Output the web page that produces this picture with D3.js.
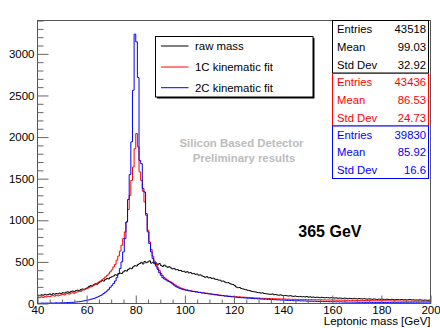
<!DOCTYPE html>
<html><head><meta charset="utf-8">
<script src="https://cdn.jsdelivr.net/npm/d3@7"></script>
<style>body{margin:0;background:#fff}svg{display:block;font-family:"Liberation Sans",Arial,Helvetica,sans-serif}</style>
</head><body><svg id="c" width="440" height="328"></svg>
<script>
// ---- data (bin contents, 240 bins of 2/3 GeV from 40 to 200) ----
const xMin = 40, xMax = 200, binWidth = 2 / 3, yMax = 3401;
const rawMass = [
100,95,105,98,110,102,108,115,105,118,112,120,115,125,118,
130,125,135,140,132,145,150,142,
155,160,152,168,175,165,180,188,
205,215,210,228,238,232,250,
262,275,270,288,300,295,312,322,
330,345,340,355,365,360,380,
395,390,410,425,418,440,455,450,
470,480,495,475,505,490,500,512,485,495,
478,488,465,480,458,445,462,448,435,442,
428,415,422,405,408,395,398,385,388,375,
382,368,372,358,362,350,354,340,344,332,
325,315,322,308,312,300,305,292,290,282,
280,268,270,258,250,252,240,232,228,215,
198,190,192,180,175,170,165,158,155,148,
145,140,138,132,130,125,128,120,118,115,
112,110,115,105,108,102,100,104,98,95,
96,92,90,94,88,86,90,84,82,85,
80,82,78,84,76,80,75,78,72,76,
74,70,75,72,68,72,70,66,70,68,
65,68,62,66,64,60,65,62,58,62,
60,56,62,58,55,60,57,54,58,55,
52,56,54,50,55,52,48,53,50,52,
50,47,52,48,45,50,47,44,48,46,
45,48,43,46,42,45,48,43,44,41,
43,40,44,42,39,42,40,38,41];
const fit1C = [
75,70,80,72,85,78,88,82,90,95,88,100,92,98,105,
110,102,115,120,112,125,130,122,
135,140,150,145,160,168,175,182,
190,200,210,220,232,245,258,
270,285,300,318,335,355,380,405,
440,470,520,570,630,700,780,
860,980,1130,1300,1480,1640,1860,2043,
1882,1582,1480,1350,1220,1060,880,740,650,570,
510,470,430,395,360,335,312,296,282,268,
258,246,230,220,206,198,186,182,172,166,
164,156,154,148,147,140,141,134,135,128,
129,124,123,118,117,112,111,106,107,102,
101,97,96,92,93,89,89,85,86,82,
83,79,80,76,77,74,74,71,72,69,
70,66,67,65,66,62,63,61,62,59,
60,57,59,56,57,55,56,54,55,52,
54,51,53,50,51,49,51,48,50,47,
49,46,48,46,47,45,46,44,46,43,
45,43,44,42,44,41,43,41,42,40,
42,39,41,39,41,38,40,38,39,37,
39,37,38,36,38,35,37,35,36,34,
36,34,35,33,35,33,34,32,34,32,
33,31,33,31,32,30,32,30,31,29,
31,29,30,28,30,28,29,27,29,27,
28,27,28,26,27,26,27,25,26];
const fit2C = [
3,2,4,5,3,6,4,5,7,5,6,8,6,7,9,
8,10,9,12,11,14,13,16,
18,20,22,25,28,32,35,40,
44,50,55,60,68,76,85,
95,105,120,135,150,170,195,215,
240,270,310,360,420,500,620,
780,980,1250,1550,1942,2563,3237,3144,
2716,1720,1680,1380,1340,1080,860,720,620,540,
490,450,410,370,340,310,295,285,270,262,
250,235,220,205,195,185,178,170,165,160,
157,153,151,146,144,139,138,133,132,127,
126,121,121,116,115,111,110,105,104,99,
98,94,93,89,89,84,84,80,80,76,
76,72,73,69,70,66,67,63,64,61,
61,58,59,56,57,53,54,51,52,49,
50,47,48,45,46,43,44,41,42,39,
40,37,38,36,37,34,35,33,34,31,
32,30,31,28,30,27,29,26,28,25,
26,24,25,23,24,22,23,21,22,20,
21,19,21,18,20,17,19,17,18,16,
18,16,17,15,16,14,16,14,15,13,
15,13,14,12,14,12,13,11,13,11,
12,10,12,10,11,10,11,9,11,9,
10,9,10,8,10,8,9,8,9,7,
9,7,8,7,8,6,8,6,7];
const xTicks = [40, 60, 80, 100, 120, 140, 160, 180, 200];
const yTicks = [0, 500, 1000, 1500, 2000, 2500, 3000];
const seriesNames = ["raw mass", "1C kinematic fit", "2C kinematic fit"];
const seriesColors = ["#000000", "#ff0000", "#0000ff"];
const statLabels = ["Entries", "Mean", "Std Dev"];
const statsRaw = ["43518", "99.03", "32.92"];
const stats1C = ["43436", "86.53", "24.73"];
const stats2C = ["39830", "85.92", "16.6"];
const xTitle = "Leptonic mass [GeV]";
const watermark = ["Silicon Based Detector", "Preliminary results"];
const energyLabel = "365 GeV";

// ---- drawing ----
const svg = d3.select("#c");
const L = 37.5, R = 430.5, T = 20.5, B = 303.5;
const x = d3.scaleLinear().domain([xMin, xMax]).range([L, R]);
const y = d3.scaleLinear().domain([0, yMax]).range([B, T]);

svg.append("rect").attr("width", 440).attr("height", 328).attr("fill", "#fff");

svg.append("defs").append("clipPath").attr("id", "fr")
  .append("rect").attr("x", L).attr("y", T).attr("width", R - L).attr("height", B - T);

const line = d3.line().x(d => x(d[0])).y(d => y(d[1])).curve(d3.curveStepAfter);
const allSeries = [rawMass, fit1C, fit2C];
const hg = svg.append("g").attr("clip-path", "url(#fr)");
allSeries.forEach((vals, si) => {
  const pts = vals.map((v, i) => [xMin + i * binWidth, v]);
  pts.push([xMax, vals[vals.length - 1]]);
  hg.append("path").attr("d", line(pts)).attr("fill", "none")
    .attr("stroke", seriesColors[si]).attr("stroke-width", 1);
});

// axes
const tickCol = "#666";
function styleAxis(g) {
  g.select(".domain").remove();
  g.selectAll(".tick line").attr("stroke", tickCol);
  g.selectAll("text").attr("fill", "#000").style("font-size", "11.5px")
    .style("font-family", '"Liberation Sans",Arial,sans-serif');
}
const yMinor = d3.range(0, yMax, 100).filter(v => v % 500 !== 0);
svg.append("g").attr("transform", `translate(${L},0)`)
  .call(d3.axisLeft(y).tickValues(yMinor).tickSizeInner(-6).tickSizeOuter(0).tickFormat(""))
  .call(styleAxis);
svg.append("g").attr("transform", `translate(${L},0)`)
  .call(d3.axisLeft(y).tickValues(yTicks).tickSizeInner(-11).tickSizeOuter(0).tickPadding(3).tickFormat(d3.format("d")))
  .call(styleAxis);
const xMinor = d3.range(xMin, xMax + 0.1, 5).filter(v => v % 20 !== 0);
svg.append("g").attr("transform", `translate(0,${B})`)
  .call(d3.axisBottom(x).tickValues(xMinor).tickSizeInner(-4).tickSizeOuter(0).tickFormat(""))
  .call(styleAxis);
svg.append("g").attr("transform", `translate(0,${B})`)
  .call(d3.axisBottom(x).tickValues(xTicks).tickSizeInner(-8).tickSizeOuter(0).tickPadding(2.5).tickFormat(d3.format("d")))
  .call(styleAxis);

// frame
svg.append("rect").attr("x", L).attr("y", T).attr("width", R - L).attr("height", B - T)
  .attr("fill", "none").attr("stroke", "#555").attr("stroke-width", 1);

// x title
svg.append("text").attr("x", R).attr("y", 325).attr("text-anchor", "end")
  .style("font-size", "11.5px").text(xTitle);

// watermark
svg.append("text").attr("x", 241.5).attr("y", 146.7).attr("text-anchor", "middle")
  .style("font-size", "11.4px").style("font-weight", "bold").attr("fill", "#bcbcbc").text(watermark[0]);
svg.append("text").attr("x", 244).attr("y", 161.7).attr("text-anchor", "middle")
  .style("font-size", "11.4px").style("font-weight", "bold").attr("fill", "#bcbcbc").text(watermark[1]);

// energy label
svg.append("text").attr("x", 298.3).attr("y", 236.7)
  .style("font-size", "16px").style("font-weight", "bold").attr("fill", "#000").text(energyLabel);

// legend
const lg = svg.append("g");
lg.append("rect").attr("x", 157).attr("y", 38).attr("width", 157.5).attr("height", 60.5).attr("fill", "#000");
lg.append("rect").attr("x", 155.5).attr("y", 36.5).attr("width", 157.5).attr("height", 60.5)
  .attr("fill", "#fff").attr("stroke", "#000").attr("stroke-width", 1);
const legY = [46, 67, 87.7];
seriesNames.forEach((n, i) => {
  lg.append("line").attr("x1", 161).attr("x2", 188.5).attr("y1", legY[i]).attr("y2", legY[i])
    .attr("stroke", seriesColors[i]).attr("stroke-width", 1);
  lg.append("text").attr("x", 195).attr("y", legY[i] + 4).style("font-size", "11.4px").text(n);
});

// stats boxes
const allStats = [statsRaw, stats1C, stats2C];
const boxTop = [20.5, 73.5, 126];
allStats.forEach((vals, bi) => {
  const g = svg.append("g");
  g.append("rect").attr("x", 332.5).attr("y", boxTop[bi]).attr("width", 96).attr("height", 52.5)
    .attr("fill", "#fff").attr("stroke", seriesColors[bi]).attr("stroke-width", 1);
  statLabels.forEach((lab, r) => {
    const yy = boxTop[bi] + 8.8 + r * 17.6 + 4;
    g.append("text").attr("x", 337).attr("y", yy).style("font-size", "11.3px").attr("fill", seriesColors[bi]).text(lab);
    g.append("text").attr("x", 426).attr("y", yy).attr("text-anchor", "end").style("font-size", "11.3px").attr("fill", seriesColors[bi]).text(vals[r]);
  });
});
</script>
</body></html>
